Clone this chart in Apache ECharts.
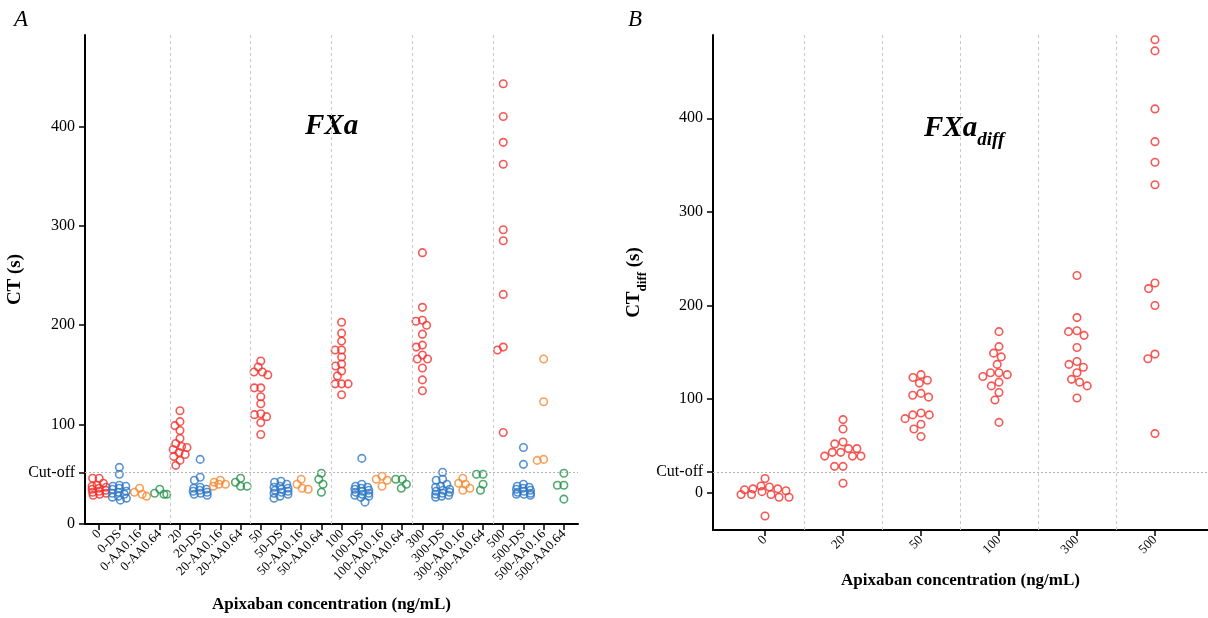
<!DOCTYPE html>
<html><head><meta charset="utf-8">
<script src="https://cdn.jsdelivr.net/npm/echarts@6/dist/echarts.min.js"></script>
<style>html,body{margin:0;padding:0;background:#fff}#c{width:1208px;height:618px}</style>
</head><body><div id="c"></div>
<script>
// ---------------- data ----------------
const concentrations = ['0', '20', '50', '100', '300', '500'];
const suffixes = ['', '-DS', '-AA0.16', '-AA0.64'];
// CT (s), panel A, one array per apixaban concentration
const ctPlasma = [
  [46,46,41,39,38,37,36,35,34,33,32,31,30,29],
  [114,103,99,94,86,81,78,77,75,72,70,68,64,59],
  [164,158,153,153,150,137,137,128,121,111,110,108,102,90],
  [203,192,184,175,175,168,161,159,154,149,141,141,141,130],
  [273,218,205,204,200,191,180,178,170,166,166,157,145,134],
  [443,410,384,362,296,285,231,178,175,92]
];
const ctDS = [
  [57,50,39,38,38,36,35,33,32,31,30,28,27,26,24],
  [65,47,44,37,36,35,34,33,32,31,30,29],
  [43,42,40,38,37,36,35,34,33,32,31,30,28,26],
  [66,40,38,37,36,35,34,33,32,31,30,29,28,27,22],
  [52,45,44,40,38,37,35,34,33,32,31,30,29,28,27],
  [77,60,40,38,37,36,35,34,33,32,31,30,30,29]
];
const ctAA016 = [
  [36,32,30,28],
  [44,42,40,40,38],
  [45,40,36,35],
  [48,45,44,38],
  [46,41,40,36,34],
  [166,123,65,64]
];
const ctAA064 = [
  [35,31,30,30],
  [46,42,38,38],
  [51,45,40,32],
  [45,45,40,36],
  [50,50,40,34],
  [51,39,39,25]
];
// CT diff (s), panel B
const ctDiff = [
  [15,7,6,4,4,3,2,1,-2,-2,-2,-5,-5,-25],
  [78,68,54,52,47,47,43,43,39,39,39,28,28,10],
  [126,123,120,117,106,104,102,85,83,83,79,73,68,60],
  [172,156,149,145,137,128,128,126,124,118,114,107,99,75],
  [232,187,173,172,168,155,140,137,134,128,121,118,114,101],
  [484,472,410,375,353,329,224,218,200,148,143,63]
];
const cutoffA = 52;
const cutoffB = 22;
const yTicksA = [0, 100, 200, 300, 400];
const yTicksB = [0, 100, 200, 300, 400];
const categoriesA = concentrations.flatMap(c => suffixes.map(s => c + s));

// ---------------- style ----------------
const FONT = '"Liberation Serif", "Times New Roman", "DejaVu Serif", serif';
const COLORS = ['#f2302a', '#2f78c4', '#f68a32', '#23934a'];
const groupsA = [ctPlasma, ctDS, ctAA016, ctAA064];

const chart = echarts.init(document.getElementById('c'), null, {renderer: 'canvas'});

const axisLineStyle = {show: true, onZero: false, lineStyle: {color: '#000', width: 2}};
const tickStyle = {color: '#000', width: 1.5};

const yLabA = yTicksA.concat([cutoffA]).sort((a, b) => a - b);
const yLabB = yTicksB.concat([cutoffB]).sort((a, b) => a - b);
const idxA = categoriesA.map((_, i) => i);
const idxB = concentrations.map((_, i) => i);

const baseOption = {
  animation: false,
  backgroundColor: '#fff',
  textStyle: {fontFamily: FONT},
  grid: [
    {left: 85, top: 35, width: 493, height: 495},
    {left: 713, top: 35, width: 495, height: 495}
  ],
  xAxis: [
    {
      type: 'value', gridIndex: 0, min: -0.7, max: 23.7,
      axisLine: axisLineStyle,
      axisTick: {show: true, customValues: idxA, length: 6, lineStyle: tickStyle},
      axisLabel: {customValues: idxA, formatter: v => categoriesA[Math.round(v)], rotate: 45,
        fontSize: 13, color: '#000', fontFamily: FONT, margin: 8},
      splitLine: {show: false},
      name: 'Apixaban concentration (ng/mL)', nameLocation: 'middle', nameGap: 72,
      nameTextStyle: {fontSize: 17, fontWeight: 'bold', color: '#000', fontFamily: FONT}
    },
    {
      type: 'value', gridIndex: 1, min: -0.667, max: 5.68,
      axisLine: axisLineStyle,
      axisTick: {show: true, customValues: idxB, length: 6, lineStyle: tickStyle},
      axisLabel: {customValues: idxB, formatter: v => concentrations[Math.round(v)], rotate: 45,
        fontSize: 13, color: '#000', fontFamily: FONT, margin: 8},
      splitLine: {show: false},
      name: 'Apixaban concentration (ng/mL)', nameLocation: 'middle', nameGap: 42,
      nameTextStyle: {fontSize: 17, fontWeight: 'bold', color: '#000', fontFamily: FONT}
    }
  ],
  yAxis: [
    {
      type: 'value', gridIndex: 0, min: 0, max: 492,
      axisLine: axisLineStyle,
      axisTick: {show: true, customValues: yLabA, length: 6, lineStyle: tickStyle},
      axisLabel: {customValues: yLabA, formatter: v => (v === cutoffA ? 'Cut-off' : String(v)),
        fontSize: 16, color: '#000', fontFamily: FONT, margin: 10},
      splitLine: {show: false},
      name: 'CT (s)', nameLocation: 'middle', nameGap: 58, nameRotate: 90,
      nameTextStyle: {fontSize: 19, fontWeight: 'bold', color: '#000', fontFamily: FONT}
    },
    {
      type: 'value', gridIndex: 1, min: -40, max: 489,
      axisLine: axisLineStyle,
      axisTick: {show: true, customValues: yLabB, length: 6, lineStyle: tickStyle},
      axisLabel: {customValues: yLabB, formatter: v => (v === cutoffB ? 'Cut-off' : String(v)),
        fontSize: 16, color: '#000', fontFamily: FONT, margin: 10},
      splitLine: {show: false},
      name: '{m|CT}{s|diff}{m| (s)}', nameLocation: 'middle', nameGap: 64, nameRotate: 90,
      nameTextStyle: {
        color: '#000', fontFamily: FONT,
        rich: {
          m: {fontSize: 19, fontWeight: 'bold', fontFamily: FONT, color: '#000', lineHeight: 30, verticalAlign: 'middle'},
          s: {fontSize: 13, fontWeight: 'bold', fontFamily: FONT, color: '#000', lineHeight: 14, verticalAlign: 'bottom'}
        }
      }
    }
  ],
  graphic: [
    {type: 'text', left: 14, top: 8, style: {text: 'A', font: 'italic 23px ' + FONT, fill: '#000'}},
    {type: 'text', left: 628, top: 8, style: {text: 'B', font: 'italic 23px ' + FONT, fill: '#000'}},
    {type: 'text', left: 305, top: 112, style: {text: 'FXa', font: 'italic bold 29px ' + FONT, fill: '#000'}},
    {type: 'text', left: 924, top: 114, style: {
      text: '{m|FXa}{s|diff}',
      rich: {
        m: {font: 'italic bold 29px ' + FONT, fill: '#000', lineHeight: 42, verticalAlign: 'middle'},
        s: {font: 'italic bold 19px ' + FONT, fill: '#000', lineHeight: 19, verticalAlign: 'bottom'}
      }
    }}
  ],
  series: []
};
chart.setOption(baseOption);

// ---------------- beeswarm offsets (computed from values, through the axes' scales) ----------------
function scales(gi) {
  const p0 = chart.convertToPixel({gridIndex: gi}, [0, 0]);
  const p1 = chart.convertToPixel({gridIndex: gi}, [1, 1]);
  return {px: p1[0] - p0[0], py: p0[1] - p1[1]};
}
function swarm(values, sc, diam, maxPx) {
  const placed = [];
  const out = new Array(values.length);
  const order = values.map((v, i) => i).sort((a, b) => values[b] - values[a]);
  for (const i of order) {
    const y = values[i] * sc.py;
    const iv = [];
    for (const p of placed) {
      const dy = Math.abs(p.y - y);
      if (dy < diam) { const dx = Math.sqrt(diam * diam - dy * dy); iv.push([p.x - dx, p.x + dx]); }
    }
    const cands = [0];
    iv.forEach(([a, b]) => cands.push(a, b));
    cands.sort((a, b) => Math.abs(a) - Math.abs(b) || a - b);
    let best = null;
    for (const c of cands) {
      if (Math.abs(c) > maxPx + 1e-9) continue;
      if (iv.every(([a, b]) => c <= a + 1e-6 || c >= b - 1e-6)) { best = c; break; }
    }
    if (best === null) {
      let bestScore = Infinity;
      const grid = [];
      for (let c = -maxPx; c <= maxPx + 1e-9; c += 0.5) grid.push(c);
      grid.sort((a, b) => Math.abs(a) - Math.abs(b));
      for (const c of grid) {
        let s = 0;
        for (const p of placed) { const d = Math.hypot(p.x - c, p.y - y); if (d < diam) s += diam - d; }
        if (s < bestScore - 1e-6) { bestScore = s; best = c; }
      }
    }
    placed.push({x: best, y});
    out[i] = best / sc.px;
  }
  return out;
}

const scA = scales(0), scB = scales(1);
const markerStyle = c => ({color: 'rgba(255,255,255,0)', borderColor: c, borderWidth: 1.6});

const series = groupsA.map((groups, k) => {
  const data = [];
  groups.forEach((vals, g) => {
    const cat = g * suffixes.length + k;
    const offs = swarm(vals, scA, 6.5, 7);
    vals.forEach((v, j) => data.push([cat + offs[j], v]));
  });
  return {
    type: 'scatter', xAxisIndex: 0, yAxisIndex: 0, symbol: 'circle', symbolSize: 7.5,
    itemStyle: markerStyle(COLORS[k]), data, z: 3
  };
});

const divA = concentrations.slice(1).map((_, g) => (g + 1) * suffixes.length - 0.5);
series[0].markLine = {
  silent: true, symbol: 'none', label: {show: false}, animation: false,
  data: divA.map(x => ({xAxis: x, lineStyle: {type: [3, 3], color: '#c9c9c9', width: 1}}))
    .concat([{yAxis: cutoffA, lineStyle: {type: [2, 2], color: '#b5b5b5', width: 1}}])
};

const dataB = [];
ctDiff.forEach((vals, g) => {
  const offs = swarm(vals, scB, 8.5, 24);
  vals.forEach((v, j) => dataB.push([g + offs[j], v]));
});
const divB = concentrations.slice(1).map((_, g) => g + 0.5);
series.push({
  type: 'scatter', xAxisIndex: 1, yAxisIndex: 1, symbol: 'circle', symbolSize: 7.5,
  itemStyle: markerStyle(COLORS[0]), data: dataB, z: 3,
  markLine: {
    silent: true, symbol: 'none', label: {show: false}, animation: false,
    data: divB.map(x => ({xAxis: x, lineStyle: {type: [3, 3], color: '#c9c9c9', width: 1}}))
      .concat([{yAxis: cutoffB, lineStyle: {type: [2, 2], color: '#b5b5b5', width: 1}}])
  }
});

chart.setOption({series});
</script>
</body></html>
